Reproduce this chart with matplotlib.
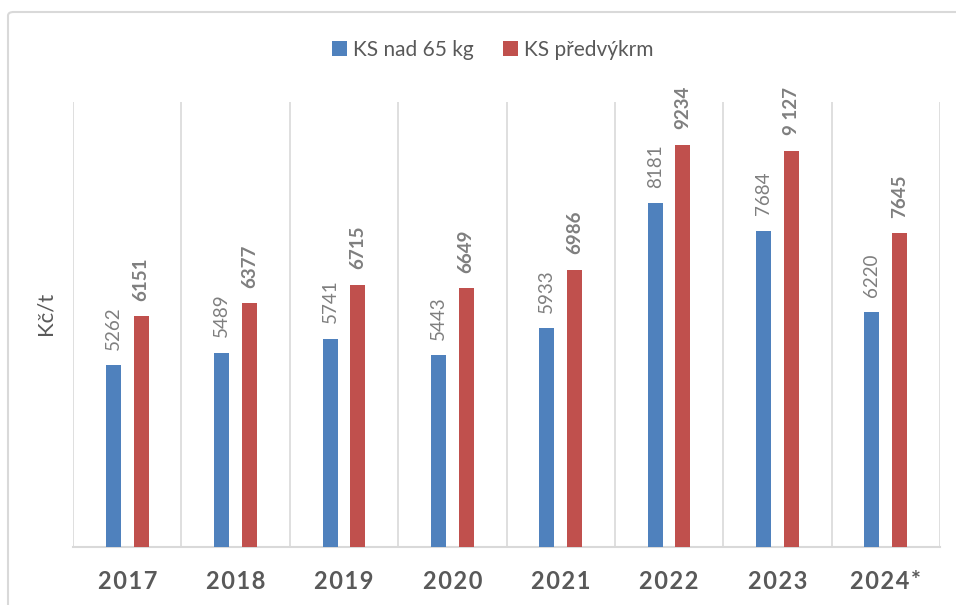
import matplotlib.pyplot as plt
from matplotlib.patches import FancyBboxPatch
import numpy as np

years = ['2017', '2018', '2019', '2020', '2021', '2022', '2023', '2024*']
ks_nad_65 = [5262, 5489, 5741, 5443, 5933, 8181, 7684, 6220]
ks_predvykrm = [6151, 6377, 6715, 6649, 6986, 9234, 9127, 7645]
predvykrm_labels = ['6151', '6377', '6715', '6649', '6986', '9234', '9 127', '7645']

BLUE = '#4F81BD'
RED = '#C0504D'
GRID = '#D9D9D9'
LABEL_GRAY = '#7F7F7F'
TEXT_DARK = '#595959'

plt.rcParams['font.family'] = ['Lato', 'DejaVu Sans']


def spaced(s):
    # imitate the wide character spacing of the category labels
    return '\u200a'.join(s)


def make_chart():

    fig = plt.figure(figsize=(9.56, 6.05), dpi=100)

    # outer chart frame (only left and top edges are visible)
    frame = FancyBboxPatch((8 / 956, -0.05), 1.2, (605 - 12) / 605 + 0.05,
                           boxstyle='round,pad=0,rounding_size=0.006',
                           transform=fig.transFigure, facecolor='none',
                           edgecolor=GRID, linewidth=1.5)
    fig.patches.append(frame)

    ax = fig.add_axes([73 / 956, (605 - 546.7) / 605,
                       (940 - 73) / 956, (546.7 - 102) / 605])

    x = np.arange(len(years))
    width = 0.138
    offset = 0.128

    bars_blue = ax.bar(x - offset, ks_nad_65, width, color=BLUE,
                       label='KS nad 65 kg', zorder=3)
    bars_red = ax.bar(x + offset, ks_predvykrm, width, color=RED,
                      label='KS předvýkrm', zorder=3)

    for rect, val in zip(bars_blue, ks_nad_65):
        ax.annotate(str(val), (rect.get_x() + rect.get_width() / 2, val),
                    xytext=(0, 11), textcoords='offset points',
                    rotation=90, ha='center', va='bottom',
                    fontsize=13.5, color=LABEL_GRAY)

    for rect, val, lab in zip(bars_red, ks_predvykrm, predvykrm_labels):
        ax.annotate(lab, (rect.get_x() + rect.get_width() / 2, val),
                    xytext=(0, 11), textcoords='offset points',
                    rotation=90, ha='center', va='bottom',
                    fontsize=13.5, fontweight='bold', color=LABEL_GRAY)

    ax.set_xlim(-0.5, len(years) - 0.5)
    ax.set_ylim(2000, 10000)

    ax.set_xticks(x)
    ax.set_xticklabels([spaced(y) for y in years], fontsize=17,
                       fontweight='bold', color=TEXT_DARK)
    ax.tick_params(axis='x', length=0, pad=17)
    ax.set_yticks([])

    # vertical separators between categories
    ax.set_xticks(np.arange(-0.5, len(years)), minor=True)
    ax.tick_params(axis='x', which='minor', length=0)
    ax.grid(axis='x', which='minor', color=GRID, linewidth=1.2, zorder=0)

    for side in ['top', 'right', 'left']:
        ax.spines[side].set_visible(False)
    ax.spines['bottom'].set_color(GRID)
    ax.spines['bottom'].set_linewidth(1.5)

    fig.text(45 / 956, 1 - 313 / 605, 'Kč/t', rotation=90, ha='center',
             va='center', fontsize=16, color=TEXT_DARK)

    fig.legend(handles=[bars_blue, bars_red], loc='center',
               bbox_to_anchor=(493 / 956, 1 - 50 / 605), ncol=2,
               frameon=False, fontsize=15, handlelength=0.7,
               handleheight=0.7, handletextpad=0.3, columnspacing=1.4,
               labelcolor=TEXT_DARK)

    fig.savefig('out.png', dpi=100)
    plt.close(fig)


if '__main__' == __name__:
    make_chart()
